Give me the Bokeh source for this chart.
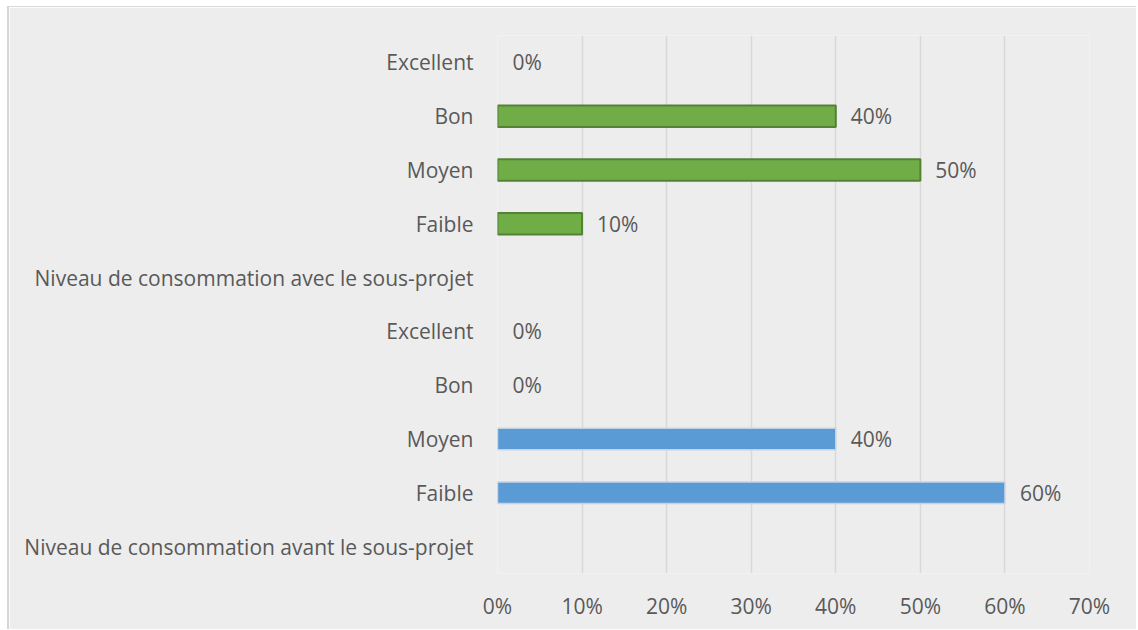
from bokeh.plotting import figure
from bokeh.models import ColumnDataSource, FixedTicker, PrintfTickFormatter, LabelSet, CDSView, BooleanFilter
from bokeh.core.properties import value
from bokeh.embed import file_html
from bokeh.resources import INLINE

# Data (bottom to top)
categories = [
    "Niveau de consommation avant le sous-projet",
    "Faible", "Moyen", "Bon", "Excellent",
    "Niveau de consommation avec le sous-projet",
    "Faible", "Moyen", "Bon", "Excellent",
]
before_values = [60, 40, 0, 0]   # Faible, Moyen, Bon, Excellent
after_values = [10, 50, 40, 0]   # Faible, Moyen, Bon, Excellent
x_ticks = [0, 10, 20, 30, 40, 50, 60, 70]

FONT = "Open Sans"
FSIZE = "21px"
TXT = "#595959"

before_pos = [1, 2, 3, 4]
after_pos = [6, 7, 8, 9]

src_b = ColumnDataSource(dict(y=before_pos, v=before_values,
                              lab=[f"{v}%" for v in before_values]))
src_a = ColumnDataSource(dict(y=after_pos, v=after_values,
                              lab=[f"{v}%" for v in after_values]))

p = figure(width=1129, height=623, x_range=(0, 70), y_range=(-0.5, 9.5),
           output_backend="svg", toolbar_location=None,
           min_border_left=488, min_border_right=49,
           min_border_top=28, min_border_bottom=57)
p.margin = (6, 0, 0, 7)
p.styles = {"border-top": "1px solid #dadada", "border-left": "2px solid #d6d6d6"}

p.background_fill_color = "#ededed"
p.border_fill_color = "#ededed"
p.outline_line_color = None

view_b = CDSView(filter=BooleanFilter([v > 0 for v in before_values]))
view_a = CDSView(filter=BooleanFilter([v > 0 for v in after_values]))

p.hbar(y="y", right="v", left=0, height=0.4, source=src_b, view=view_b,
       fill_color="#5b9bd5", line_color="#c3d3e6", line_width=1.5)
p.hbar(y="y", right="v", left=0, height=0.4, source=src_a, view=view_a,
       fill_color="#70ad47", line_color="#548235", line_width=2)

for src in (src_b, src_a):
    p.add_layout(LabelSet(x="v", y="y", text="lab", source=src,
                          x_offset=15, y_offset=0,
                          text_baseline="middle", text_align="left",
                          text_font=value(FONT), text_font_size=FSIZE,
                          text_color=TXT))

# axes
p.xaxis.ticker = FixedTicker(ticks=x_ticks)
p.xaxis.formatter = PrintfTickFormatter(format="%d%%")
p.yaxis.ticker = FixedTicker(ticks=list(range(len(categories))))
p.yaxis.major_label_overrides = {i: c for i, c in enumerate(categories)}

for ax in (p.xaxis[0], p.yaxis[0]):
    ax.axis_line_color = None
    ax.major_tick_line_color = None
    ax.minor_tick_line_color = None
    ax.major_label_text_font = FONT
    ax.major_label_text_font_size = FSIZE
    ax.major_label_text_color = TXT
p.xaxis.major_label_standoff = 12
p.yaxis.major_label_standoff = 18

p.xgrid.ticker = FixedTicker(ticks=x_ticks)
p.xgrid.grid_line_color = "#d9d9d9"
p.xgrid.grid_line_width = 1.5
p.ygrid.grid_line_color = None

open("out.html", "w").write(file_html(p, INLINE))
